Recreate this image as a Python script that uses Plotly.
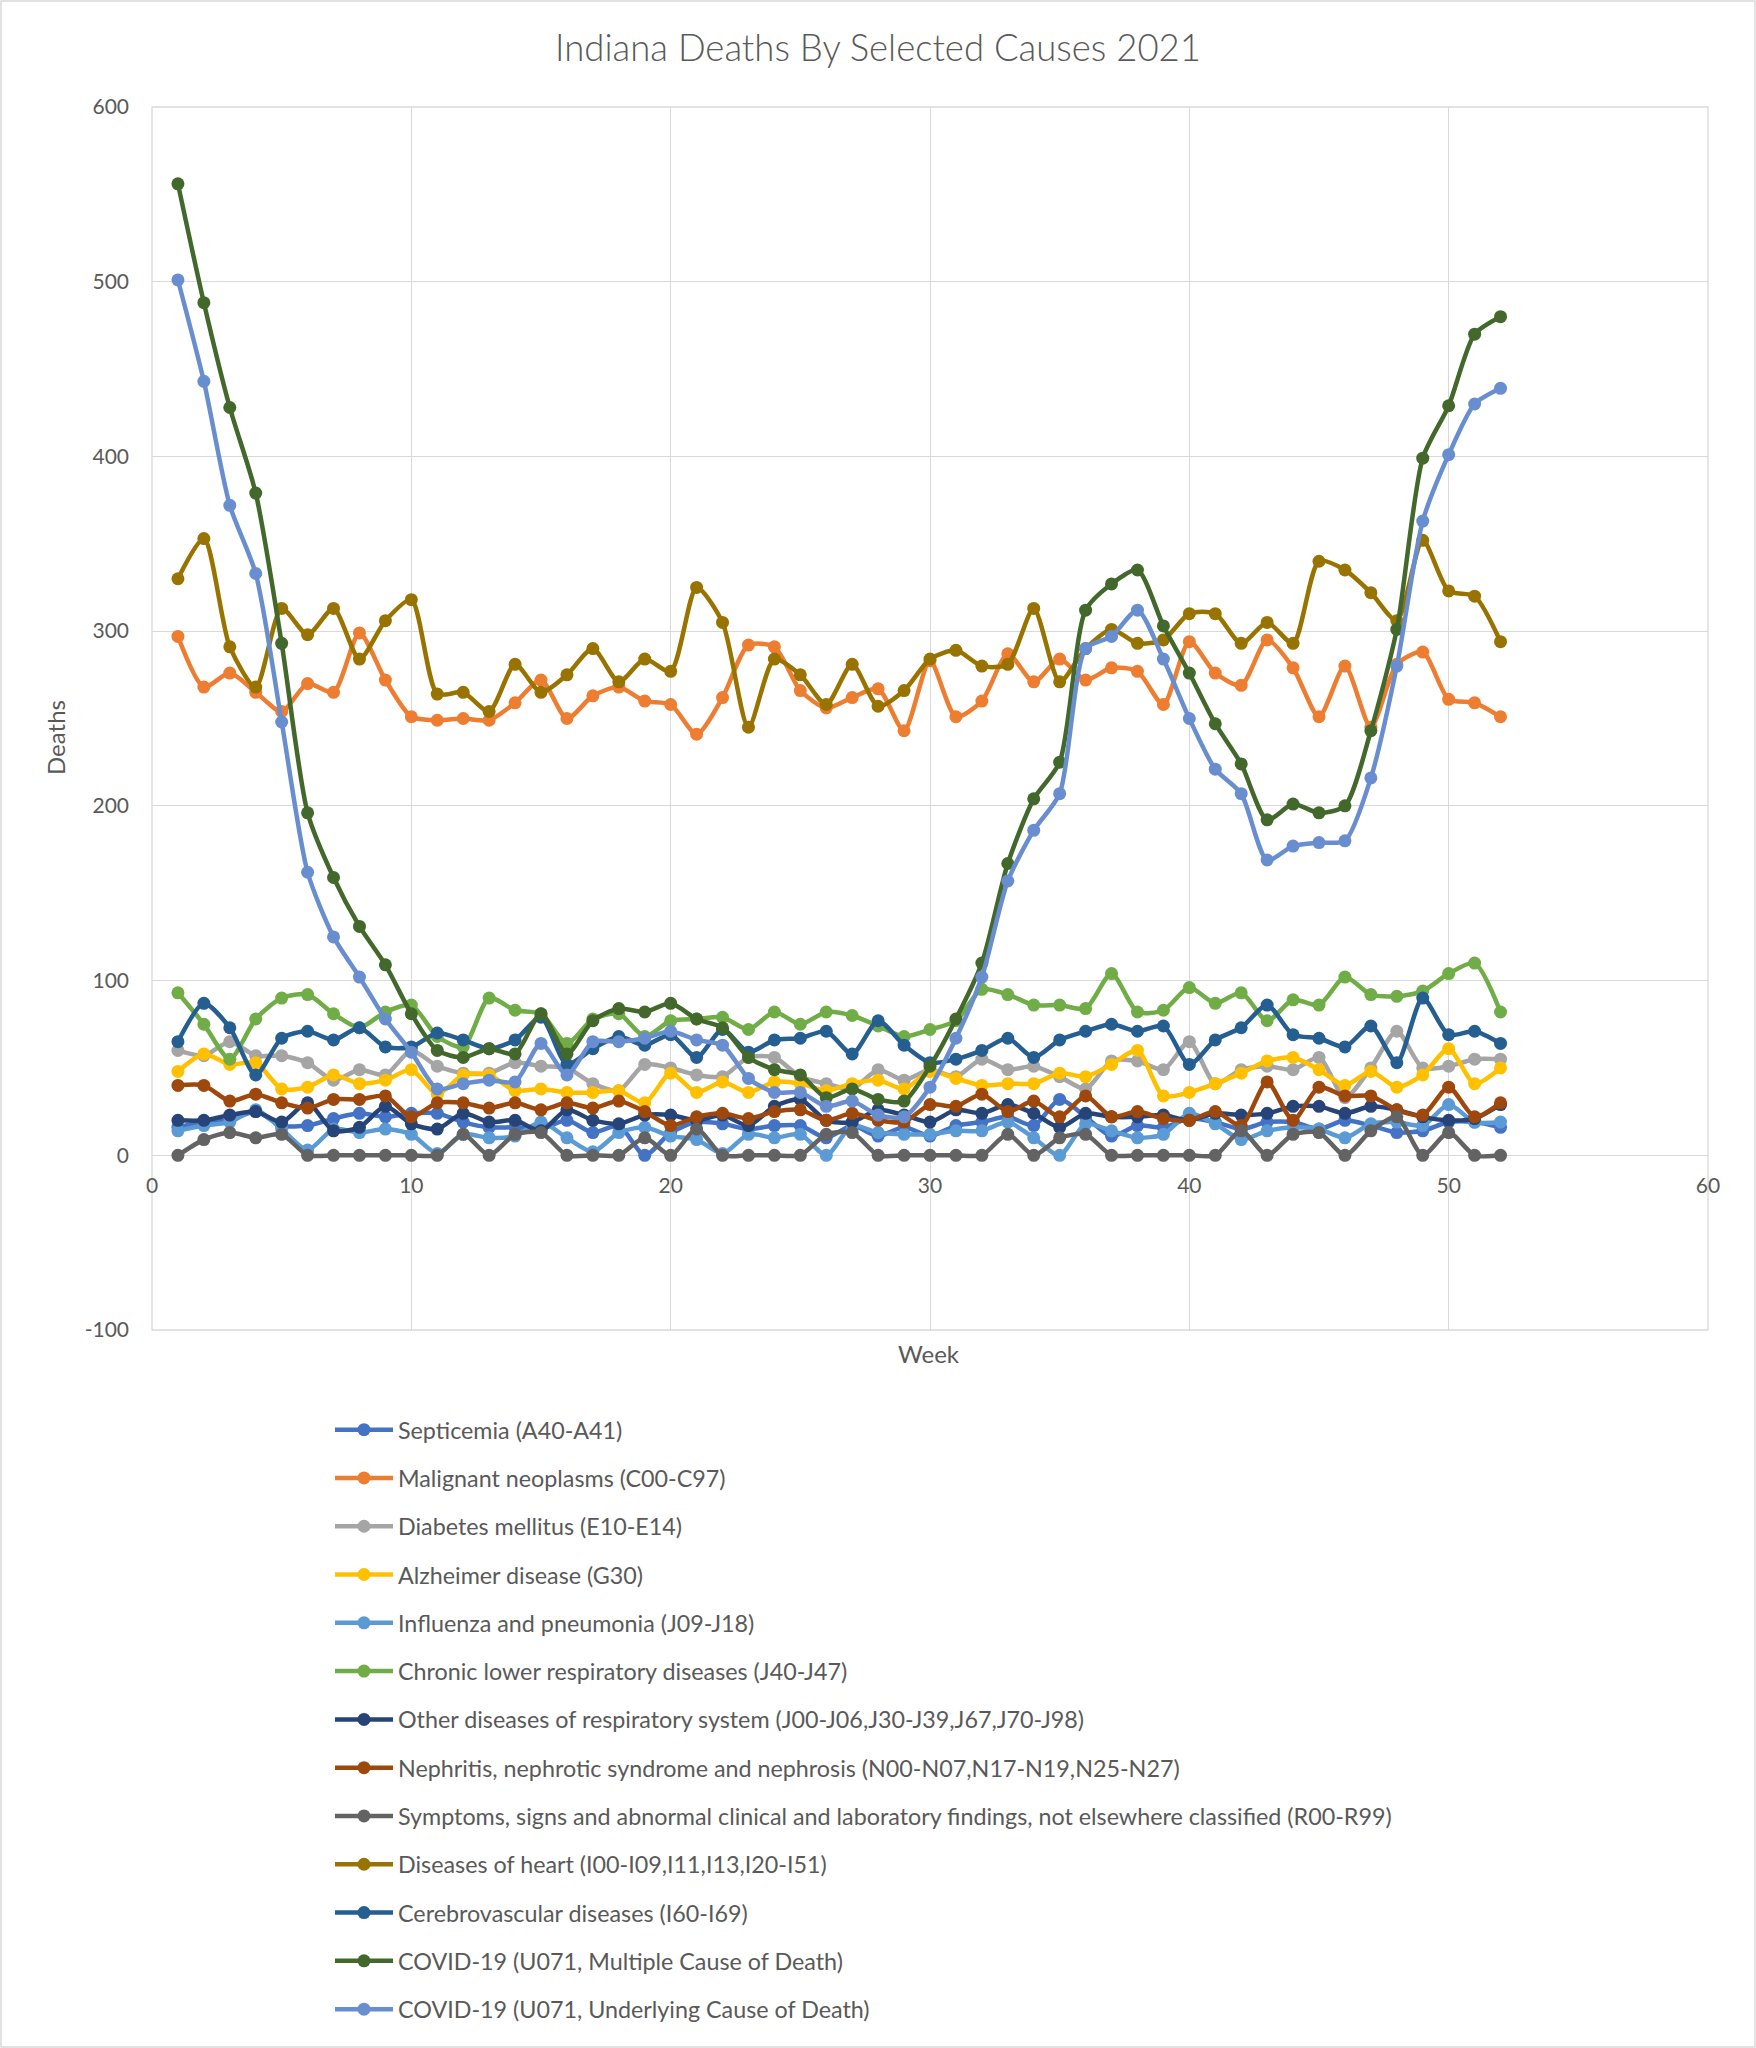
import plotly.graph_objects as go

weeks = list(range(1, 53))

names = [
    "Septicemia (A40-A41)",
    "Malignant neoplasms (C00-C97)",
    "Diabetes mellitus (E10-E14)",
    "Alzheimer disease (G30)",
    "Influenza and pneumonia (J09-J18)",
    "Chronic lower respiratory diseases (J40-J47)",
    "Other diseases of respiratory system (J00-J06,J30-J39,J67,J70-J98)",
    "Nephritis, nephrotic syndrome and nephrosis (N00-N07,N17-N19,N25-N27)",
    "Symptoms, signs and abnormal clinical and laboratory findings, not elsewhere classified (R00-R99)",
    "Diseases of heart (I00-I09,I11,I13,I20-I51)",
    "Cerebrovascular diseases (I60-I69)",
    "COVID-19 (U071, Multiple Cause of Death)",
    "COVID-19 (U071, Underlying Cause of Death)",
]

septicemia = [16,19,20,25,17,17,21,24,22,24,24,19,16,16,15,20,13,17,0,13,19,18,15,17,17,10,17,11,16,11,17,19,22,17,32,22,11,17,16,21,19,15,19,19,15,20,17,13,14,19,19,16]
malignant = [297,268,276,265,254,270,265,299,272,251,249,250,249,259,272,250,263,268,260,258,241,262,292,291,266,256,262,267,243,283,251,260,287,271,284,272,279,277,258,294,276,269,295,279,251,280,245,281,288,261,259,251]
diabetes = [60,57,65,57,57,53,43,49,46,60,51,47,47,53,51,50,41,37,52,50,46,45,56,56,45,41,38,49,43,49,45,55,49,51,45,38,54,54,49,65,41,49,51,49,56,33,50,71,50,51,55,55]
alzheimer = [48,58,52,53,38,39,46,41,43,49,35,46,46,37,38,36,36,37,30,47,36,42,36,42,41,37,41,43,38,48,44,40,41,41,47,45,52,60,34,36,41,47,54,56,49,40,48,39,46,61,41,50]
influenza = [14,17,19,26,15,3,15,13,15,12,1,12,10,11,19,10,2,13,16,11,9,1,12,10,12,0,17,13,12,12,14,14,19,10,0,18,14,10,12,24,18,9,14,16,15,10,18,19,17,29,19,19]
chronic_lower = [93,75,55,78,90,92,81,73,82,86,68,62,90,83,81,64,78,81,68,77,78,79,72,82,75,82,80,74,68,72,77,95,92,86,86,84,104,82,83,96,87,93,77,89,86,102,92,91,94,104,110,82]
other_resp = [20,20,23,25,19,30,14,16,28,18,15,24,19,20,14,26,20,18,23,23,20,23,17,28,32,20,19,26,23,19,26,24,29,24,16,24,22,22,23,20,24,23,24,28,28,24,28,26,22,20,21,29]
nephritis = [40,40,31,35,30,27,32,32,34,22,30,30,27,30,26,30,27,31,25,17,22,24,21,25,26,20,24,20,19,29,28,35,25,31,22,34,22,25,21,20,25,17,42,20,39,34,34,26,23,39,22,30]
symptoms = [0,9,13,10,12,0,0,0,0,0,0,12,0,12,13,0,0,0,10,0,15,0,0,0,0,12,13,0,0,0,0,0,12,0,10,12,0,0,0,0,0,14,0,12,13,0,14,22,0,13,0,0]
heart = [330,353,291,268,313,298,313,284,306,318,264,265,254,281,265,275,290,271,284,277,325,305,245,284,275,258,281,257,266,284,289,280,281,313,271,290,301,293,295,310,310,293,305,293,340,335,322,306,352,323,320,294]
cerebro = [65,87,73,46,67,71,66,73,62,62,70,66,61,66,79,52,61,68,63,69,56,72,59,66,67,71,58,77,63,53,55,60,67,56,66,71,75,71,74,52,66,73,86,69,67,62,74,53,90,69,71,64]
covid_multiple = [556,488,428,379,293,196,159,131,109,81,60,56,61,58,81,58,77,84,82,87,78,73,56,49,46,33,38,32,31,51,78,110,167,204,225,312,327,335,303,276,247,224,192,201,196,200,243,301,399,429,470,480]
covid_underlying = [501,443,372,333,248,162,125,102,78,59,38,41,43,42,64,46,65,65,67,71,66,63,44,36,36,28,31,23,22,39,67,102,157,186,207,290,297,312,284,250,221,207,169,177,179,180,216,280,363,401,430,439]

series = [septicemia, malignant, diabetes, alzheimer, influenza, chronic_lower,
          other_resp, nephritis, symptoms, heart, cerebro, covid_multiple, covid_underlying]
colors = ["#4472C4", "#ED7D31", "#A5A5A5", "#FFC000", "#5B9BD5", "#70AD47",
          "#264478", "#9E480E", "#636363", "#997300", "#255E91", "#43682B", "#698ED0"]

x_ticks = [0, 10, 20, 30, 40, 50, 60]
y_ticks = [-100, 0, 100, 200, 300, 400, 500, 600]

FONT = "Lato, Carlito, Calibri, sans-serif"
TXT = "#595959"
GRID = "#D9D9D9"

W, H = 1756, 2048
ML, MR, MT, MB = 152, 48, 107, 718
PW, PH = W - ML - MR, H - MT - MB

fig = go.Figure()
for i, (nm, ys, col) in enumerate(zip(names, series, colors)):
    fig.add_trace(go.Scatter(
        x=weeks, y=ys, name=nm, mode="lines+markers",
        line=dict(color=col, width=4.5, shape="spline", smoothing=0.7),
        marker=dict(color=col, size=13),
        legendgroup="g%d" % i,
    ))

def px_x(X):
    return (X - ML) / PW

def px_y(Y):
    return (H - MB - Y) / PH

fig.update_layout(
    width=W, height=H,
    margin=dict(l=ML, r=MR, t=MT, b=MB, pad=0, autoexpand=False),
    paper_bgcolor="white", plot_bgcolor="white",
    font=dict(family=FONT, color=TXT, size=22),
    title=dict(text="Indiana Deaths By Selected Causes 2021",
               x=0.5, xref="container", xanchor="center",
               y=1 - 48 / H, yref="container", yanchor="middle",
               font=dict(family=FONT, size=36.5, color=TXT, weight=300)),
    showlegend=True,
    legend=dict(
        x=px_x(330), xanchor="left", y=px_y(1408), yanchor="top",
        orientation="v", traceorder="grouped",
        font=dict(family=FONT, size=23.3, color=TXT),
        tracegroupgap=15, itemwidth=58,
        bgcolor="rgba(0,0,0,0)",
    ),
    xaxis=dict(
        range=[0, 60], tickvals=x_ticks, ticktext=[str(v) for v in x_ticks],
        showgrid=True, gridcolor=GRID, gridwidth=1.3,
        zeroline=False, showline=False, ticks="",
        anchor="free", position=100 / 700,
        ticklabelstandoff=16,
        tickfont=dict(family=FONT, size=21, color=TXT),
    ),
    yaxis=dict(
        range=[-100, 600], tickvals=y_ticks, ticktext=[str(v) for v in y_ticks],
        showgrid=True, gridcolor=GRID, gridwidth=1.3,
        zeroline=False, showline=False, ticks="",
        ticklabelstandoff=22,
        tickfont=dict(family=FONT, size=21, color=TXT),
    ),
    annotations=[
        dict(text="Week", xref="paper", yref="paper", x=px_x(929), y=px_y(1353),
             xanchor="center", yanchor="middle", showarrow=False,
             font=dict(family=FONT, size=24, color=TXT)),
        dict(text="Deaths", xref="paper", yref="paper", x=px_x(55), y=px_y(738),
             xanchor="center", yanchor="middle", showarrow=False, textangle=-90,
             font=dict(family=FONT, size=24, color=TXT)),
    ],
    shapes=[
        dict(type="rect", xref="paper", yref="paper", x0=0, x1=1, y0=0, y1=1,
             line=dict(color=GRID, width=1.3), layer="below"),
        dict(type="rect", xref="paper", yref="paper",
             x0=px_x(1), x1=px_x(W - 1), y0=px_y(H - 1), y1=px_y(1),
             line=dict(color="#D9D9D9", width=1.5), layer="below"),
    ],
)

fig.write_html("out.html")
